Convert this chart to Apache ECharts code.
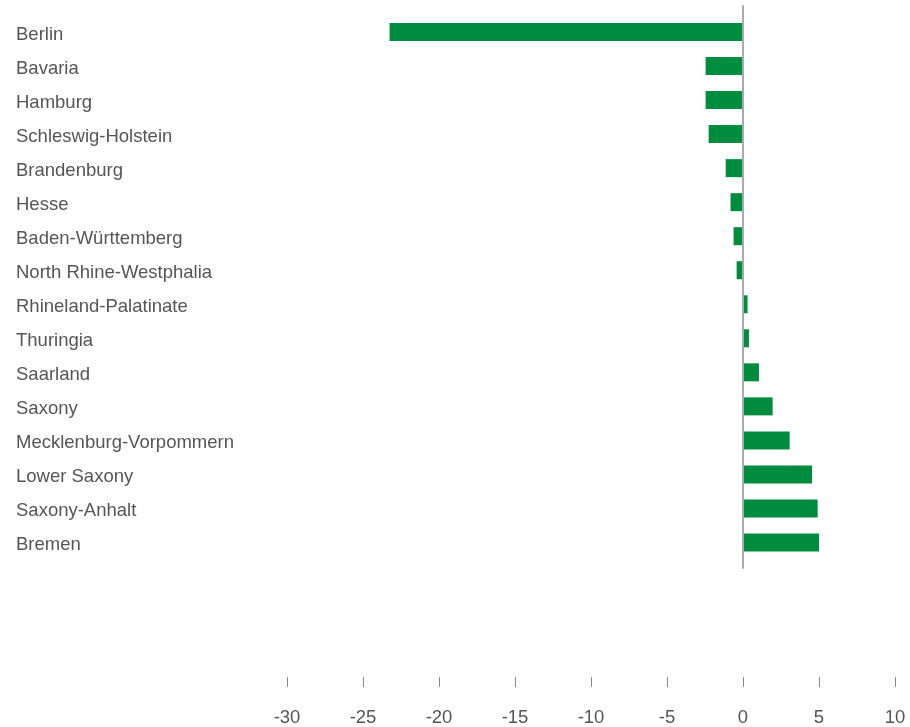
<!DOCTYPE html>
<html>
<head>
<meta charset="utf-8">
<script src="https://cdn.jsdelivr.net/npm/echarts@6/dist/echarts.min.js"></script>
<style>
html,body{margin:0;padding:0;background:#fff;}
#chart{width:910px;height:727px;}
</style>
</head>
<body>
<div id="chart"></div>
<script>
var states = ["Berlin","Bavaria","Hamburg","Schleswig-Holstein","Brandenburg","Hesse","Baden-Württemberg","North Rhine-Westphalia","Rhineland-Palatinate","Thuringia","Saarland","Saxony","Mecklenburg-Vorpommern","Lower Saxony","Saxony-Anhalt","Bremen"];
var values = [-23.25,-2.46,-2.46,-2.26,-1.14,-0.82,-0.62,-0.42,0.3,0.39,1.05,1.95,3.07,4.54,4.91,5.0];
var xMin = -30, xMax = 10, xStep = 5;

var chart = echarts.init(document.getElementById('chart'));
chart.setOption({
  animation: false,
  backgroundColor: '#fff',
  textStyle: { fontFamily: 'Liberation Sans, Arial, sans-serif' },
  grid: [
    { left: 287, right: 15, top: 15, bottom: 167.5 },
    { left: 287, right: 15, top: 6, bottom: 159 }
  ],
  xAxis: [
    {
      gridIndex: 0, type: 'value', min: xMin, max: xMax, interval: xStep,
      position: 'bottom', offset: 117.5,
      axisLine: { show: false },
      axisTick: { show: true, length: 10, lineStyle: { color: '#888', width: 1 } },
      splitLine: { show: false },
      axisLabel: { margin: 31, fontSize: 18.5, color: '#555', fontFamily: 'Liberation Sans, Arial, sans-serif' }
    },
    {
      gridIndex: 1, type: 'value', min: xMin, max: xMax, interval: xStep,
      axisLine: { show: false }, axisTick: { show: false },
      axisLabel: { show: false }, splitLine: { show: false }
    }
  ],
  yAxis: [
    {
      gridIndex: 0, type: 'category', data: states, inverse: true,
      axisLine: { show: false }, axisTick: { show: false }, splitLine: { show: false },
      axisLabel: { align: 'left', verticalAlign: 'top', lineHeight: 5, margin: 271, fontSize: 18.5, color: '#555', fontFamily: 'Liberation Sans, Arial, sans-serif' }
    },
    {
      gridIndex: 1, type: 'value', min: 0, max: 1, z: 5,
      axisLine: { show: true, onZero: true, lineStyle: { color: '#aaa', width: 2 } },
      axisTick: { show: false }, axisLabel: { show: false }, splitLine: { show: false }
    }
  ],
  series: [
    {
      type: 'bar', xAxisIndex: 0, yAxisIndex: 0,
      data: values, barWidth: 18,
      itemStyle: { color: '#008C3E' }
    }
  ]
});
</script>
</body>
</html>
